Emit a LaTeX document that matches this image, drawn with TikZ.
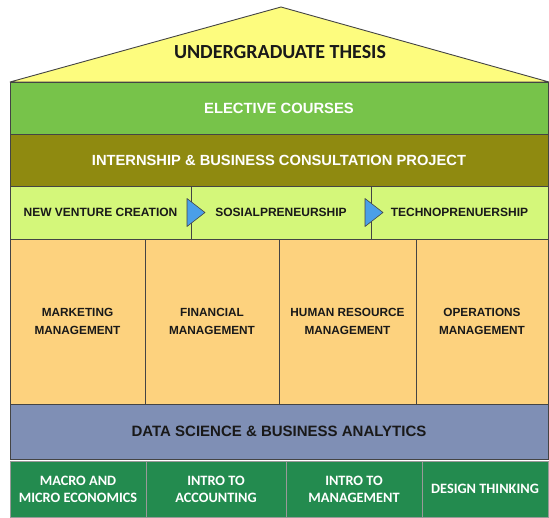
\documentclass[tikz,border=0pt]{standalone}
\usepackage{fontspec}
\setmainfont{Liberation Sans}
\newfontfamily\gill{Carlito}
\definecolor{roofc}{HTML}{FDFC7E}
\definecolor{electc}{HTML}{77C34A}
\definecolor{internc}{HTML}{8F8A10}
\definecolor{entc}{HTML}{D4F77A}
\definecolor{orangec}{HTML}{FDD27E}
\definecolor{bluec}{HTML}{7F8FB5}
\definecolor{greenc}{HTML}{238B4F}
\definecolor{arrowc}{HTML}{4A9FE8}
\definecolor{linec}{HTML}{444444}
\tikzset{
  cell/.style={draw=linec, line width=0.9pt, inner sep=0pt, outer sep=0pt, anchor=north west, align=center, font=\bfseries},
  band/.style={cell, minimum width=538pt},
  basecell/.style={cell, draw=black!40, fill=greenc, text=white, font=\gill\bfseries\fontsize{14.3}{17}\selectfont, minimum height=56pt},
  pillar/.style={cell, fill=orangec, text=black!90, font=\bfseries\fontsize{11.8}{18}\selectfont, minimum height=165pt},
  entcell/.style={cell, fill=entc, text=black!90, font=\bfseries\fontsize{12}{14}\selectfont, minimum height=53pt},
  arrowtri/.style={fill=arrowc, draw=linec, line width=0.6pt, line join=round}
}
\begin{document}
\begin{tikzpicture}[x=1pt,y=-1pt]
\useasboundingbox (0,0) rectangle (549,517);
% roof
\draw[fill=roofc, draw=linec, line width=0.9pt, line join=round] (10,82) -- (281,7) -- (549,82) -- cycle;
\node[font=\gill\bfseries\fontsize{20}{22}\selectfont, text=black!90] (roof) at (280,52) {UNDERGRADUATE THESIS};
% bands
\node[band, fill=electc, text=white, minimum height=52pt, font=\bfseries\fontsize{14.8}{16}\selectfont] (elective) at (10,82) {ELECTIVE COURSES};
\node[band, fill=internc, text=white, minimum height=52pt, font=\bfseries\fontsize{14.7}{16}\selectfont] (intern) at (10,134) {INTERNSHIP \& BUSINESS CONSULTATION PROJECT};
% entrepreneurship row
\node[entcell, minimum width=181pt] (nvc) at (10,186) {NEW VENTURE CREATION};
\node[entcell, minimum width=180pt] (sos) at (191,186) {SOSIALPRENEURSHIP};
\node[entcell, minimum width=177pt] (tech) at (371,186) {TECHNOPRENUERSHIP};
\draw[arrowtri] ([shift={(-4,-14)}]nvc.east) -- ([shift={(14,0)}]nvc.east) -- ([shift={(-4,14)}]nvc.east) -- cycle;
\draw[arrowtri] ([shift={(-6,-14)}]sos.east) -- ([shift={(12,0)}]sos.east) -- ([shift={(-6,14)}]sos.east) -- cycle;
% pillars
\node[pillar, minimum width=135pt] (mkt) at (10,239) {MARKETING\\MANAGEMENT};
\node[pillar, minimum width=134pt] (fin) at (145,239) {FINANCIAL\\MANAGEMENT};
\node[pillar, minimum width=137pt] (hrm) at (279,239) {HUMAN RESOURCE\\MANAGEMENT};
\node[pillar, minimum width=132pt] (ops) at (416,239) {OPERATIONS\\MANAGEMENT};
% data science
\node[band, fill=bluec, text=black!90, minimum height=55pt, font=\bfseries\fontsize{15}{16}\selectfont] (ds) at (10,404) {DATA SCIENCE \& BUSINESS ANALYTICS};
% foundation
\node[basecell, minimum width=136pt] (eco) at (10,461) {MACRO AND\\MICRO ECONOMICS};
\node[basecell, minimum width=140pt] (acc) at (146,461) {INTRO TO\\ACCOUNTING};
\node[basecell, minimum width=136pt] (mgmt) at (286,461) {INTRO TO\\MANAGEMENT};
\node[basecell, minimum width=126pt] (dt) at (422,461) {DESIGN THINKING};
\end{tikzpicture}
\end{document}
